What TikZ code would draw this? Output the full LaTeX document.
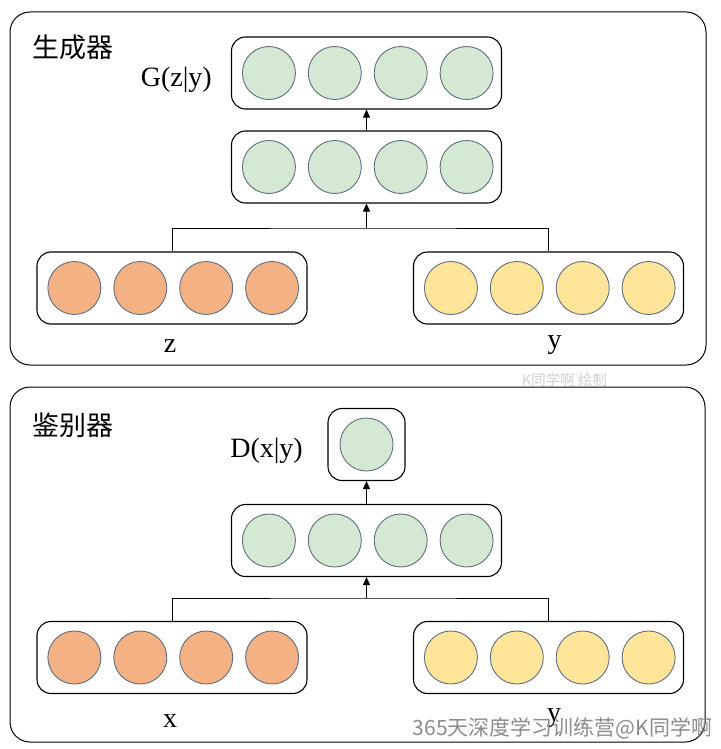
\documentclass[tikz,border=0pt]{standalone}
\usepackage{fontspec}
\setmainfont{Liberation Serif}
\newfontfamily\cjk{Noto Sans CJK SC}
\usetikzlibrary{positioning,arrows.meta}

\definecolor{greenfill}{HTML}{D5E8D4}
\definecolor{orangefill}{HTML}{F4B183}
\definecolor{yellowfill}{HTML}{FFE599}
\definecolor{unitline}{HTML}{5F6E80}

\begin{document}
\begin{tikzpicture}[x=1pt,y=-1pt,
    panel/.style={draw, line width=1pt, rounded corners=20pt, inner sep=0pt},
    layer/.style={draw, line width=1.1pt, rounded corners=14pt, minimum width=270pt, minimum height=72pt, inner sep=0pt},
    unit/.style={circle, draw=unitline, line width=0.9pt, minimum size=53pt, inner sep=0pt},
    gunit/.style={unit, fill=greenfill},
    zunit/.style={unit, fill=orangefill},
    yunit/.style={unit, fill=yellowfill},
    lab/.style={font=\fontsize{28}{30}\selectfont, inner sep=0pt},
    outlab/.style={font=\fontsize{28}{30}\selectfont, inner sep=0pt, anchor=base east},
    title/.style={font=\cjk\fontsize{27}{30}\selectfont, inner sep=0pt, anchor=west},
    wmark/.style={font=\cjk\fontsize{14.5}{16}\selectfont, text=black!18, inner sep=0pt},
    conn/.style={line width=0.9pt},
    up/.style={conn, -{Triangle[length=8pt,width=7pt]}}
]
    \useasboundingbox[fill=white] (0,0) rectangle (720,749);

    % generator
    \node[panel, minimum width=696pt, minimum height=353pt] (genpanel) at (358,188.5) {};
    \node[title] (gentitle) at (32,47) {生成器};

    \node[layer] (gout) at (366.5,73) {};
    \node[gunit, right=11pt of gout.west] (go1) {};
    \node[gunit, right=12pt of go1] (go2) {};
    \node[gunit, right=12pt of go2] (go3) {};
    \node[gunit, right=12pt of go3] (go4) {};
    \node[outlab] (goutlab) at (212,87) {G(z|y)};

    \node[layer] (ghid) at (366.5,167) {};
    \node[gunit, right=11pt of ghid.west] (gh1) {};
    \node[gunit, right=12pt of gh1] (gh2) {};
    \node[gunit, right=12pt of gh2] (gh3) {};
    \node[gunit, right=12pt of gh3] (gh4) {};

    \node[layer] (zin) at (172,288) {};
    \node[zunit, right=11pt of zin.west] (z1) {};
    \node[zunit, right=12pt of z1] (z2) {};
    \node[zunit, right=12pt of z2] (z3) {};
    \node[zunit, right=12pt of z3] (z4) {};
    \node[lab, anchor=base] (zlab) at (170,352) {z};

    \node[layer] (gyin) at (548.5,288) {};
    \node[yunit, right=11pt of gyin.west] (gy1) {};
    \node[yunit, right=12pt of gy1] (gy2) {};
    \node[yunit, right=12pt of gy2] (gy3) {};
    \node[yunit, right=12pt of gy3] (gy4) {};
    \node[lab, anchor=base] (gylab) at (554.5,348) {y};

    \coordinate (gjoin) at (366.5,228);
    \draw[conn] (zin.north) |- (gjoin) -| (gyin.north);
    \draw[up] (gjoin) -- (ghid.south);
    \draw[up] (ghid.north) -- (gout.south);

    \node[wmark] (mark1) at (564.5,380) {K同学啊 绘制};

    % discriminator
    \node[panel, minimum width=695pt, minimum height=355pt] (dispanel) at (357.5,564.5) {};
    \node[title] (distitle) at (32,425) {鉴别器};

    \node[layer, minimum width=77pt] (dout) at (366.5,444.5) {};
    \node[gunit] (do1) at (dout.center) {};
    \node[outlab] (doutlab) at (303,457) {D(x|y)};

    \node[layer] (dhid) at (366.5,540.5) {};
    \node[gunit, right=11pt of dhid.west] (dh1) {};
    \node[gunit, right=12pt of dh1] (dh2) {};
    \node[gunit, right=12pt of dh2] (dh3) {};
    \node[gunit, right=12pt of dh3] (dh4) {};

    \node[layer] (xin) at (172,657.5) {};
    \node[zunit, right=11pt of xin.west] (x1) {};
    \node[zunit, right=12pt of x1] (x2) {};
    \node[zunit, right=12pt of x2] (x3) {};
    \node[zunit, right=12pt of x3] (x4) {};
    \node[lab, anchor=base] (xlab) at (170,727) {x};

    \node[layer] (dyin) at (548.5,657.5) {};
    \node[yunit, right=11pt of dyin.west] (dy1) {};
    \node[yunit, right=12pt of dy1] (dy2) {};
    \node[yunit, right=12pt of dy2] (dy3) {};
    \node[yunit, right=12pt of dy3] (dy4) {};
    \node[lab, anchor=base] (dylab) at (554,721) {y};

    \coordinate (djoin) at (366.5,598);
    \draw[conn] (xin.north) |- (djoin) -| (dyin.north);
    \draw[up] (djoin) -- (dhid.south);
    \draw[up] (dhid.north) -- (dout.south);

    \node[wmark, font=\cjk\fontsize{21}{24}\selectfont, text=black!45] (mark2) at (562.5,728) {365天深度学习训练营@K同学啊};
\end{tikzpicture}
\end{document}
